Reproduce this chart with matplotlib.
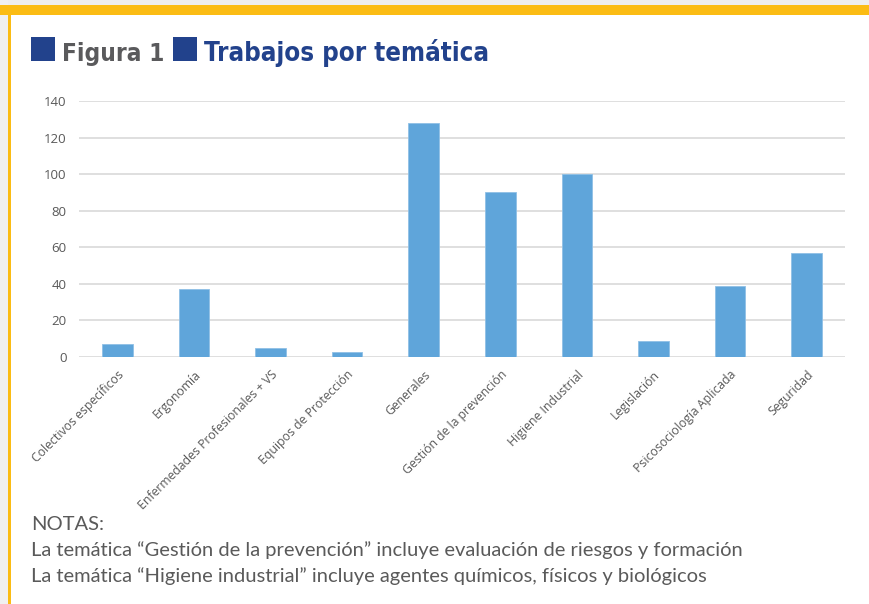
import numpy as np
import matplotlib.pyplot as plt
from matplotlib.patches import Rectangle

# Datos del gráfico
tematicas = ['Colectivos específicos', 'Ergonomía', 'Enfermedades Profesionales + VS',
             'Equipos de Protección', 'Generales', 'Gestión de la prevención',
             'Higiene Industrial', 'Legislación', 'Psicosociología Aplicada', 'Seguridad']
trabajos = [7, 37, 5, 3, 128, 90, 100, 9, 39, 57]
y_ticks = [0, 20, 40, 60, 80, 100, 120, 140]
notas = ['NOTAS:',
         'La temática “Gestión de la prevención” incluye evaluación de riesgos y formación',
         'La temática “Higiene industrial” incluye agentes químicos, físicos y biológicos']

W, H = 869, 604
fig = plt.figure(figsize=(W / 100, H / 100), dpi=100)
fig.patch.set_facecolor('white')

# Marco: fondo gris arriba/izquierda, borde amarillo
fig.patches.append(Rectangle((0, 1 - 5 / H), 1, 5 / H, transform=fig.transFigure,
                             facecolor='#eeeeee', edgecolor='none', zorder=0))
fig.patches.append(Rectangle((0, 0), 8 / W, 1, transform=fig.transFigure,
                             facecolor='#f0f0f0', edgecolor='none', zorder=0))
fig.patches.append(Rectangle((0, 1 - 15 / H), 1, 10 / H, transform=fig.transFigure,
                             facecolor='#fbbc14', edgecolor='none', zorder=1))
fig.patches.append(Rectangle((8 / W, 0), 3 / W, 1 - 5 / H, transform=fig.transFigure,
                             facecolor='#fbbc14', edgecolor='none', zorder=1))

# Título
azul = '#22428c'
fig.patches.append(Rectangle((31 / W, 1 - 61 / H), 24 / W, 24 / H, transform=fig.transFigure,
                             facecolor=azul, edgecolor='none'))
fig.patches.append(Rectangle((173 / W, 1 - 61 / H), 24 / W, 24 / H, transform=fig.transFigure,
                             facecolor=azul, edgecolor='none'))
fig.text(62 / W, 1 - 61 / H, 'Figura 1', fontsize=17.5, fontweight='bold', color='#5a5a5c',
         family='DejaVu Sans', fontstretch='condensed', va='baseline', ha='left')
fig.text(204 / W, 1 - 61 / H, 'Trabajos por temática', fontsize=18.5, fontweight='bold',
         color=azul, family='DejaVu Sans', fontstretch='condensed', va='baseline', ha='left')

# Gráfico de barras
ax = fig.add_axes([79 / W, 1 - 357 / H, (845 - 79) / W, (357 - 101) / H])
x = np.arange(len(tematicas))
ax.bar(x, trabajos, width=0.4, color='#5fa5da', edgecolor='#8fc0e6', linewidth=0.6, zorder=3)
ax.set_xlim(-0.5, len(tematicas) - 0.5)
ax.set_ylim(0, 140)
ax.set_yticks(y_ticks)
ax.yaxis.grid(True, color='#d9d9d9', linewidth=1.2, zorder=0)
ax.set_axisbelow(True)
for s in ax.spines.values():
    s.set_visible(False)
ax.tick_params(axis='both', length=0, colors='#595959')
ax.tick_params(axis='y', labelsize=9.5, pad=9)
for lbl in ax.get_yticklabels():
    lbl.set_family(['Open Sans', 'DejaVu Sans'])
ax.set_xticks(x)
ax.set_xticklabels(tematicas, rotation=45, ha='right', rotation_mode='anchor',
                   fontsize=8.8, family=['Open Sans', 'DejaVu Sans'], color='#595959')
ax.tick_params(axis='x', pad=8)

# Notas
for i, linea in enumerate(notas):
    fig.text(31 / W, 1 - (530 + i * 26) / H, linea, fontsize=14.5, color='#5a5a5a',
             family=['Lato', 'DejaVu Sans'], fontweight='normal', va='baseline', ha='left')

plt.savefig('out.png', dpi=100)
